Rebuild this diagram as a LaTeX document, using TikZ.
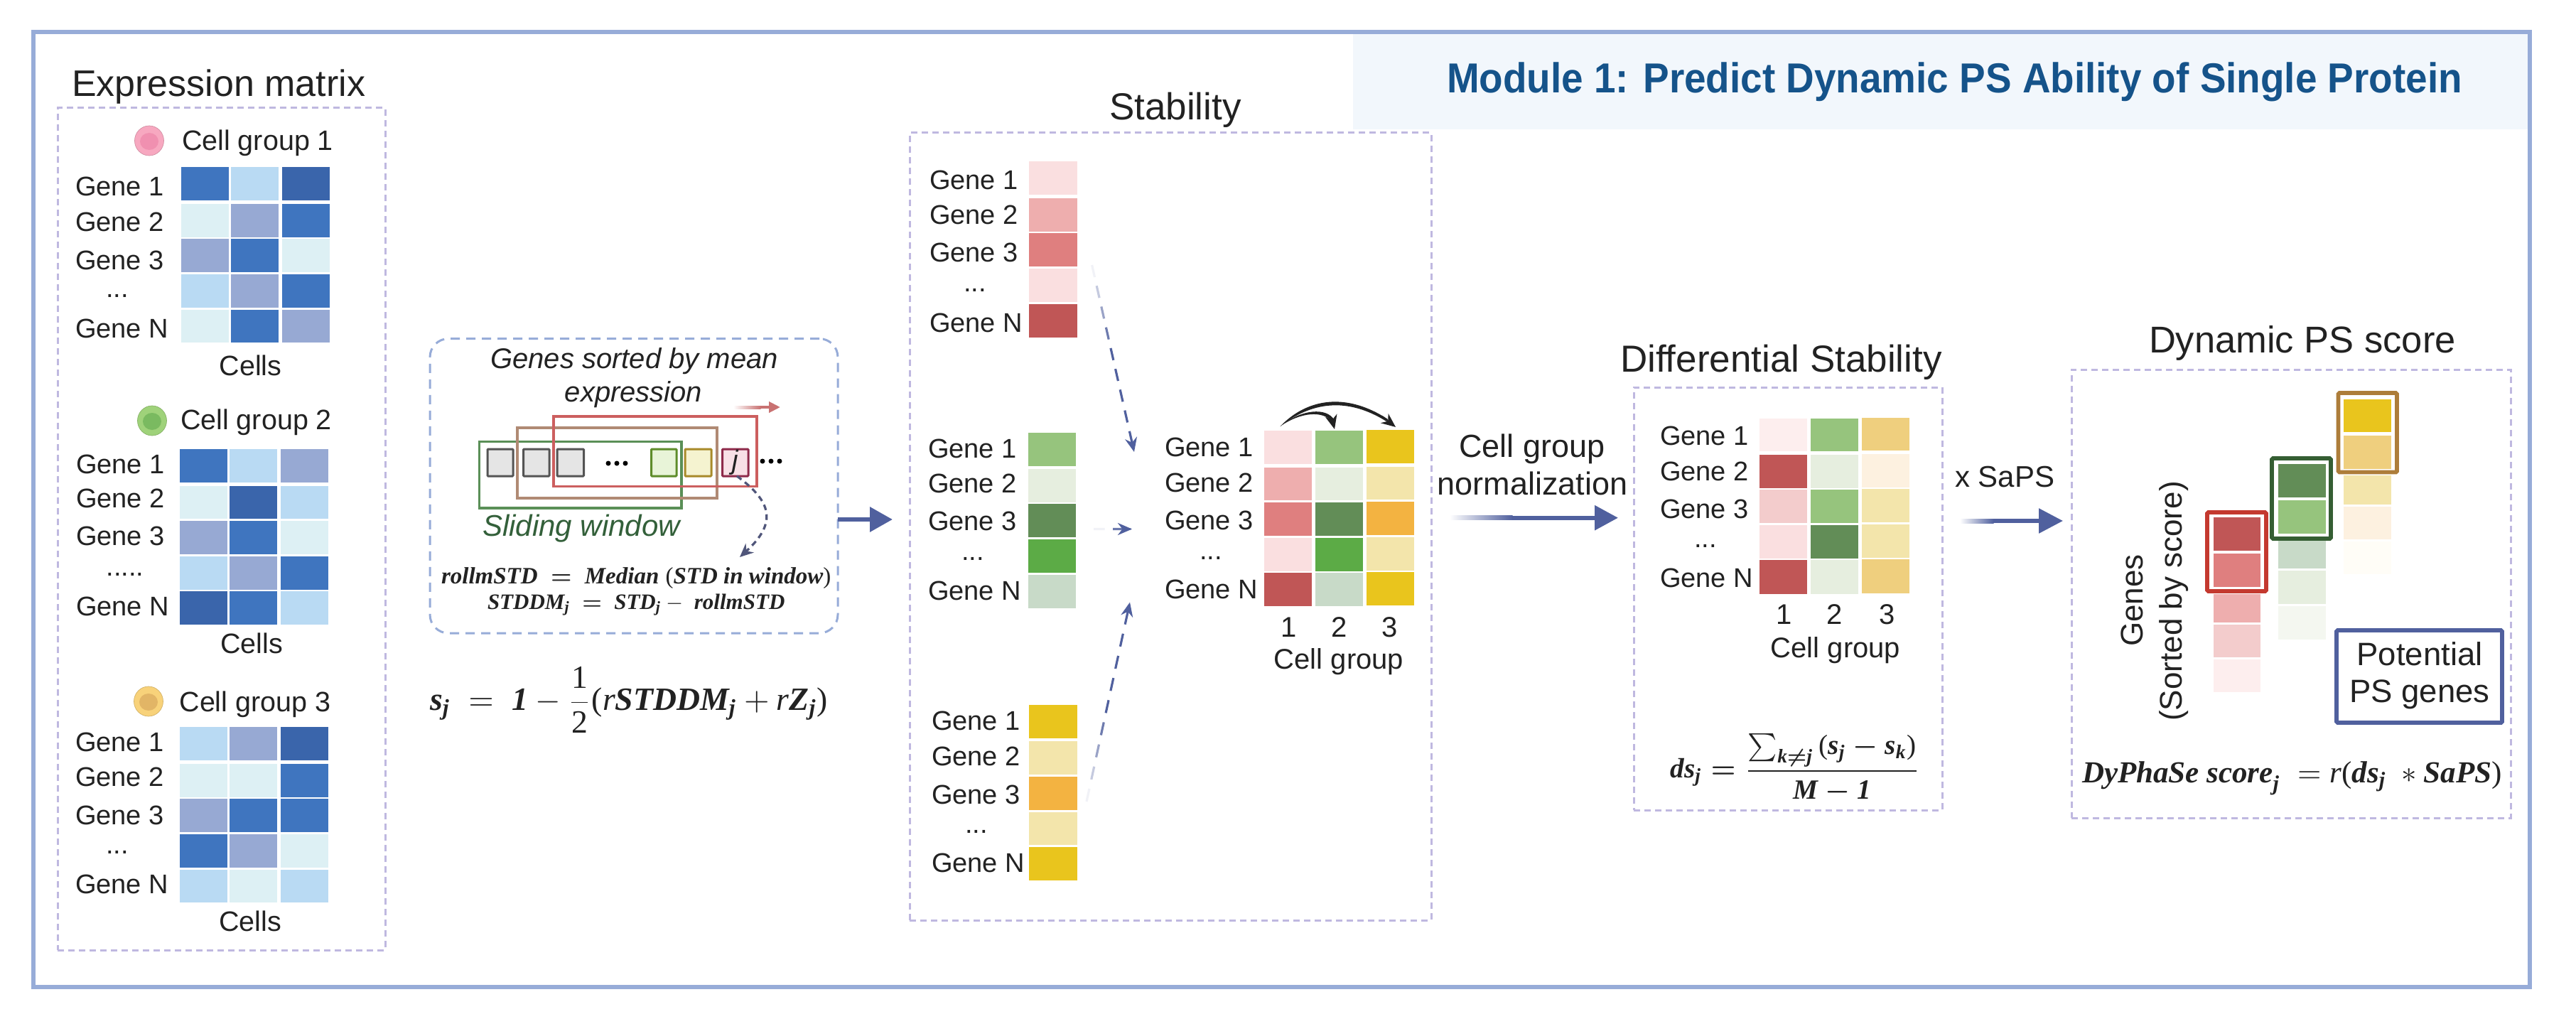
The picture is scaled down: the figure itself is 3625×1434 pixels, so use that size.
\documentclass[tikz,border=0pt]{standalone}
\usepackage{amsmath,amsbsy,graphicx}
\usepackage[no-math]{fontspec}
\setmainfont{Liberation Sans}
\newfontfamily\mserif{Liberation Serif}
\usetikzlibrary{arrows.meta,calc,fit}
\definecolor{frameblue}{HTML}{97ACD8}
\definecolor{bandblue}{HTML}{F2F7FC}
\definecolor{titleblue}{HTML}{15538A}
\definecolor{dashlilac}{HTML}{BFB8E0}
\definecolor{ab}{HTML}{50609E}
\definecolor{ink}{HTML}{222222}
\definecolor{slidegreen}{HTML}{33603A}
\definecolor{slatearrow}{HTML}{50567A}
% icon colours
\definecolor{iAo}{HTML}{F7A8C0}\definecolor{iAi}{HTML}{F090B0}
\definecolor{iBo}{HTML}{9FD27A}\definecolor{iBi}{HTML}{7ABA60}
\definecolor{iCo}{HTML}{F8D27A}\definecolor{iCi}{HTML}{E2B566}
% expression colours
\definecolor{xd}{HTML}{3A65AB}\definecolor{xm}{HTML}{3F75BF}\definecolor{xb}{HTML}{97A9D3}
\definecolor{xl}{HTML}{B9DAF3}\definecolor{xp}{HTML}{DDF0F4}
% reds
\definecolor{ra}{HTML}{C05656}\definecolor{rb}{HTML}{DF7F7F}\definecolor{rc}{HTML}{EEAEAE}
\definecolor{rd}{HTML}{F3CCCC}\definecolor{re}{HTML}{FDEEEE}\definecolor{rf}{HTML}{FADFE0}
% greens
\definecolor{ga}{HTML}{628D57}\definecolor{gb}{HTML}{96C47D}\definecolor{gc}{HTML}{C8DAC8}
\definecolor{gd}{HTML}{E6EEDF}\definecolor{ge}{HTML}{F4F7F0}\definecolor{gf}{HTML}{5CAB46}
% yellows
\definecolor{ya}{HTML}{E9C51D}\definecolor{yb}{HTML}{EFCF7E}\definecolor{yc}{HTML}{F3E5AB}
\definecolor{yd}{HTML}{FDF1E0}\definecolor{ye}{HTML}{FFFDF7}\definecolor{yf}{HTML}{F3B341}
\newcounter{tn}
\newcommand\fs[1]{\fontsize{#1}{#1}\selectfont}
\newcommand\bi[1]{\text{\mserif\bfseries\itshape #1}}
\newcommand\ri[1]{\text{\mserif\itshape #1}}
\newcommand\rn[1]{\text{\mserif #1}}
\newcommand\T[4][]{\stepcounter{tn}\node[lbl,#1](t\thetn) at (#2,#3) {#4};}
\newcommand\hrow[3]{\foreach \xa/\xb/\cc in {#3}{\fill[\cc] (\xa,#1) rectangle (\xb,#2);}}
\newcommand\bx[6][dashbox]{\coordinate (#2-a) at (#3,#4);\coordinate (#2-b) at (#5,#6);\node[#1,fit=(#2-a)(#2-b)](#2){};}
\def\gdots{...}
\newcommand\genes[7]{\T[font=\fs{38}]{#1}{#2}{Gene 1}\T[font=\fs{38}]{#1}{#3}{Gene 2}\T[font=\fs{38}]{#1}{#4}{Gene 3}\T[font=\fs{38},anchor=base]{#7}{#5}{\gdots}\T[font=\fs{38}]{#1}{#6}{Gene N}}
\newcommand\cellicon[4]{\fill[#3,draw=#3!85!black,line width=.7pt] (#1,#2) ellipse [x radius=20.5,y radius=21];\fill[#4] (#1,#2+1) ellipse [x radius=13,y radius=12];}
% fading arrow: coordinates a (tail), f (fade end), b (tip)
\newcommand\fadearrow[6]{\coordinate (#1-a) at (#2,#5);\coordinate (#1-f) at (#3,#5);\coordinate (#1-b) at (#4,#5);
 \shade[left color=white,right color=ab] (#2,#5-3) rectangle (#3+.5,#5+3);
 \draw[ab,line width=6pt,-{Triangle[length=#6pt,width=34pt]}] (#1-f) -- (#1-b);}
% fading dashed arrow between named coordinates
\newcommand\fadedash[4]{%
 \foreach \k in {0,...,\numexpr#3-1\relax}{%
  \pgfmathsetmacro\ta{\k/#3}\pgfmathsetmacro\tb{(\k+.58)/#3}%
  \pgfmathsetmacro\pc{min(100,8+100*\k/#4)}%
  \draw[ab!\pc!white,line width=3.2pt] ($(#1)!\ta!(#2)$) -- ($(#1)!\tb!(#2)$);}%
 \draw[ab,line width=3.2pt,-{Stealth[length=20pt,width=17pt]}] ($(#1)!.97!(#2)$) -- (#2);}
\tikzset{
 lbl/.style={inner sep=0,outer sep=0,anchor=base west,text=ink},
 dashbox/.style={draw=dashlilac,line width=3pt,dash pattern=on 9pt off 6pt,inner sep=0,outer sep=0,rectangle},
 slidebox/.style={draw=frameblue,line width=3pt,dash pattern=on 13pt off 9pt,inner sep=0,outer sep=0,rectangle,rounded corners=26pt},
 sq/.style={line width=3pt,rounded corners=1pt},
 win/.style={line width=3.4pt},
 frm/.style={line width=5.6pt,rounded corners=1.5pt,fill=none},
}
\begin{document}
\begin{tikzpicture}[x=1pt,y=-1pt]
\useasboundingbox (0,0) rectangle (3625,1434);
\fill[white] (0,0) rectangle (3625,1434);
% band and frame
\fill[bandblue] (1904,48) rectangle (3558,182);
\draw[frameblue,line width=6pt] (46.5,45) rectangle (3560,1389);
\T[font=\fs{59}\bfseries,text=titleblue]{2036}{131}{\scalebox{.93}[1]{Module 1: Predict Dynamic PS Ability of Single Protein}}
% ---------- expression
\T[font=\fs{52}]{101}{136}{Expression matrix}
\bx{exprbox}{81}{152}{542}{1337}
\cellicon{210}{198}{iAo}{iAi}
\T[font=\fs{39.5}]{256}{211.5}{Cell group 1}
\genes{106}{275}{325}{379}{418}{475.5}{165}
\hrow{235.4}{282}{255/322/xm,325/392/xl,397/464/xd}
\hrow{287}{334}{255/322/xp,325/392/xb,397/464/xm}
\hrow{336}{383}{255/322/xb,325/392/xm,397/464/xp}
\hrow{386}{433}{255/322/xl,325/392/xb,397/464/xm}
\hrow{435.6}{482}{255/322/xp,325/392/xm,397/464/xb}
\T[font=\fs{39.5}]{308.6}{528}{Cells}
\cellicon{214}{592}{iBo}{iBi}
\T[font=\fs{39.5}]{254}{604}{Cell group 2}
\def\gdots{.....}
\genes{107}{666}{714}{767}{810}{866}{176}
\def\gdots{...}
\hrow{632}{679}{253/320/xm,323/390/xl,395/462/xb}
\hrow{683.5}{730}{253/320/xp,323/390/xd,395/462/xl}
\hrow{733}{780}{253/320/xb,323/390/xm,395/462/xp}
\hrow{783}{830}{253/320/xl,323/390/xb,395/462/xm}
\hrow{832}{879}{253/320/xd,323/390/xm,395/462/xl}
\T[font=\fs{39.5}]{310}{919}{Cells}
\cellicon{209}{987}{iCo}{iCi}
\T[font=\fs{39.5}]{252.5}{1001.5}{Cell group 3}
\genes{106}{1057}{1106}{1160}{1201}{1257}{165}
\hrow{1023}{1070}{253/320/xl,323/390/xb,395/462/xd}
\hrow{1075}{1122}{253/320/xp,323/390/xp,395/462/xm}
\hrow{1124}{1171}{253/320/xb,323/390/xm,395/462/xm}
\hrow{1174}{1221}{253/320/xm,323/390/xb,395/462/xp}
\hrow{1223.5}{1270}{253/320/xl,323/390/xp,395/462/xl}
\T[font=\fs{39.5}]{308}{1310}{Cells}
% ---------- sliding window
\bx[slidebox]{slidebox}{605}{476.6}{1179}{891}
\T[font=\fs{40}\itshape,anchor=base]{892.5}{518}{Genes sorted by mean}
\T[font=\fs{40}\itshape,anchor=base]{891.5}{565}{expression}
\coordinate (redA) at (1032,573);\coordinate (redF) at (1070,573);\coordinate (redB) at (1098,573);
\shade[left color=white,right color=rb!90!black] (1032,571) rectangle (1070.5,575);
\draw[rb!90!black,line width=4pt,-{Triangle[length=16pt,width=15pt]}] (redF) -- (redB);
\draw[win,draw={rgb,255:red,90;green,143;blue,87}] (674.6,621.7) rectangle (959,715);
\draw[win,draw={rgb,255:red,176;green,138;blue,116}] (728,602) rectangle (1009,701);
\draw[win,draw={rgb,255:red,204;green,95;blue,95}] (779,586) rectangle (1065,684.5);
\draw[sq,fill=black!10,draw=black!67] (686,632) rectangle (722,670);
\draw[sq,fill=black!10,draw=black!67] (736.6,632) rectangle (773,670);
\draw[sq,fill=black!10,draw=black!67] (784,632) rectangle (821.5,670);
\draw[sq,fill={rgb,255:red,232;green,244;blue,216},draw={rgb,255:red,94;green,140;blue,42}] (916.5,632) rectangle (952,670);
\draw[sq,fill={rgb,255:red,245;green,243;blue,208},draw={rgb,255:red,168;green,138;blue,42}] (964,632) rectangle (1001,670);
\draw[sq,fill={rgb,255:red,248;green,224;blue,230},draw={rgb,255:red,142;green,42;blue,74}] (1016.6,632) rectangle (1053,670);
\node[inner sep=0,outer sep=0,font=\fs{38}\itshape,text=ink](jnode) at (1034.8,651){j};
\foreach \dx in {-12,0,12}{\fill[black] (868+\dx,652) circle (3.5);\fill[black] (1085+\dx,649) circle (3.5);}
\T[font=\fs{42}\itshape,text=slidegreen]{679}{754}{Sliding window}
\coordinate (jfoot) at (1037,670);\coordinate (mathtop) at (1041,784);
\draw[slatearrow,line width=3.2pt,dash pattern=on 8pt off 6pt,-{Stealth[length=19pt,width=17pt]}] (jfoot) .. controls (1085,705) and (1095,735) .. (mathtop);
\T[anchor=base west]{621}{821}{\scalebox{3.3}{$\bi{rollmSTD}\ \boldsymbol{=}\ \bi{Median}\ \rn{(}\bi{STD in window}\rn{)}$}}
\T[anchor=base west]{686}{857}{\scalebox{3.1}{$\bi{STDDM}_{\bi{j}}\ \boldsymbol{=}\ \bi{STD}_{\bi{j}}-\ \bi{rollmSTD}$}}
\T[anchor=west]{605}{985}{\scalebox{4.57}{$\displaystyle\bi{s}_{\bi{j}}\ =\ \bi{1}-\frac{\rn{1}}{\rn{2}}\rn{(}\ri{r}\bi{STDDM}_{\bi{j}}+\ri{r}\bi{Z}_{\bi{j}}\rn{)}$}}
\coordinate (slideTip) at (1256,731);
\draw[ab,line width=6.5pt,-{Triangle[length=32pt,width=34pt]}] (slideTip -| slidebox.east) -- (slideTip);
% ---------- stability
\T[font=\fs{53}]{1561}{169}{Stability}
\bx{stabbox}{1280}{187}{2014}{1295}
\genes{1308}{266}{315}{368}{410}{467}{1372}
\hrow{227}{274}{1448/1516/rf}\hrow{279}{326}{1448/1516/rc}\hrow{328}{375}{1448/1516/rb}\hrow{378}{425}{1448/1516/rf}\hrow{428}{475}{1448/1516/ra}
\genes{1306}{644}{693}{746.5}{788}{844}{1369}
\hrow{608.6}{655.5}{1447/1514/gb}\hrow{660}{707}{1447/1514/gd}\hrow{709.4}{756}{1447/1514/ga}\hrow{758.5}{806.4}{1447/1514/gf}\hrow{808.6}{855.7}{1447/1514/gc}
\genes{1311}{1027}{1077}{1131}{1172}{1227}{1374}
\hrow{992}{1038.6}{1448/1516/ya}\hrow{1043}{1089.6}{1448/1516/yc}\hrow{1093}{1139.6}{1448/1516/yf}\hrow{1143}{1189}{1448/1516/yc}\hrow{1192}{1238.6}{1448/1516/ya}
% centre matrix
\genes{1639}{642}{692}{745.7}{787}{842}{1704}
\hrow{606}{653}{1779/1846/rf,1851/1918/gb}\hrow{657.7}{704}{1779/1846/rc,1851/1918/gd}\hrow{707}{753.7}{1779/1846/rb,1851/1918/ga}\hrow{757}{804}{1779/1846/rf,1851/1918/gf}\hrow{806}{853}{1779/1846/ra,1851/1918/gc}
\hrow{605}{652}{1923/1990/ya}\hrow{656.7}{703}{1923/1990/yc}\hrow{706}{753}{1923/1990/yf}\hrow{756}{803}{1923/1990/yc}\hrow{805}{852}{1923/1990/ya}
\T[font=\fs{40},anchor=base]{1814}{896}{1}\T[font=\fs{40},anchor=base]{1885}{896}{2}\T[font=\fs{40},anchor=base]{1956}{896}{3}
\T[font=\fs{40},anchor=base]{1884}{941.7}{Cell group}
\coordinate (arcS) at (1801.5,600);\coordinate (arcA) at (1878,604);\coordinate (arcB) at (1964,601);
\fill[ink] (arcS) .. controls (1830,576) and (1868,572) .. (1878,592) -- (1875,594) .. controls (1862,577) and (1830,580) .. cycle;
\fill[ink] (arcS) .. controls (1840,560) and (1895,552) .. (1953,590) -- (1951,593) .. controls (1895,558) and (1845,566) .. cycle;
\draw[ink,line width=2pt,-{Stealth[length=20pt,width=17pt]}] (1874,588) -- (arcA);
\draw[ink,line width=2pt,-{Stealth[length=20pt,width=17pt]}] (1945,586) -- (arcB);
% dashed arrows
\coordinate (da1) at (1536.6,373);\coordinate (db1) at (1596,636);
\coordinate (da2) at (1539,744.5);\coordinate (db2) at (1593,744.5);
\coordinate (da3) at (1529,1128);\coordinate (db3) at (1590,847.5);
\fadedash{da1}{db1}{9}{4}
\fadedash{da2}{db2}{2}{1.3}
\fadedash{da3}{db3}{9}{4}
% ---------- normalization
\T[font=\fs{45},anchor=base]{2156}{643}{Cell group}
\T[font=\fs{45},anchor=base]{2156.5}{696.7}{normalization}
\fadearrow{normarrow}{2040}{2128}{2277}{728.7}{33}
% ---------- differential
\T[font=\fs{53}]{2280}{523}{Differential Stability}
\bx{diffbox}{2299}{545}{2733}{1140}
\genes{2336}{626}{676}{729.5}{770}{826}{2400}
\hrow{588.6}{635}{2476/2543/re,2548/2615/gb}\hrow{639.5}{687}{2476/2543/ra,2548/2615/gd}\hrow{689}{736}{2476/2543/rd,2548/2615/gb}\hrow{738.7}{786}{2476/2543/rf,2548/2615/ga}\hrow{788}{835.5}{2476/2543/ra,2548/2615/gd}
\hrow{587.6}{634}{2620/2687/yb}\hrow{638.5}{686}{2620/2687/yd}\hrow{688}{735}{2620/2687/yc}\hrow{737.7}{785}{2620/2687/yc}\hrow{787}{834.5}{2620/2687/yb}
\T[font=\fs{40},anchor=base]{2511}{878}{1}\T[font=\fs{40},anchor=base]{2582}{878}{2}\T[font=\fs{40},anchor=base]{2656}{878}{3}
\T[font=\fs{40},anchor=base]{2583}{925}{Cell group}
\T[anchor=west]{2350.6}{1081}{\scalebox{3.92}{\boldmath$\displaystyle \bi{ds}_{\bi{j}}=\frac{\sum_{\bi{k}\neq \bi{j}}\rn{(}\bi{s}_{\bi{j}}-\bi{s}_{\bi{k}}\rn{)}}{\bi{M}-\bi{1}}$}}
% ---------- SaPS
\T[font=\fs{42}]{2751}{685}{x SaPS}
\fadearrow{sapsarrow}{2758}{2805}{2903}{733}{34}
% ---------- dynamic
\T[font=\fs{52.5}]{3024}{496}{Dynamic PS score}
\bx{dynbox}{2915}{520}{3533}{1151}
\T[font=\fs{44},anchor=base,rotate=90]{3015}{845}{Genes}
\T[font=\fs{44},anchor=base,rotate=90]{3070}{846}{(Sorted by score)}
\hrow{728}{775}{3115/3181/ra}\hrow{779}{826}{3115/3181/rb}\hrow{836}{876}{3115/3181/rc}\hrow{879}{925}{3115/3181/rd}\hrow{928}{974}{3115/3181/re}
\hrow{653}{700}{3206/3273/ga}\hrow{704}{751}{3206/3273/gb}\hrow{761}{800}{3206/3273/gc}\hrow{803}{850}{3206/3273/gd}\hrow{853}{900}{3206/3273/ge}
\hrow{562}{608}{3298/3365/ya}\hrow{613}{660}{3298/3365/yb}\hrow{668.5}{710}{3298/3365/yc}\hrow{712.6}{759}{3298/3365/yd}\hrow{761.6}{808}{3298/3365/ye}
\draw[frm,draw={rgb,255:red,196;green,57;blue,47}] (3106,721) rectangle (3189,832);
\draw[frm,draw={rgb,255:red,53;green,94;blue,51}] (3197,645) rectangle (3280,758);
\draw[frm,draw={rgb,255:red,173;green,125;blue,58}] (3290.5,553) rectangle (3373,664.5);
\coordinate (pa) at (3288,887);\coordinate (pb) at (3521,1017);
\node[draw=ab,line width=5.6pt,rounded corners=1.5pt,inner sep=0,outer sep=0,fit=(pa)(pb)](potbox){};
\T[font=\fs{45.5},anchor=base]{3405}{936.5}{Potential}
\T[font=\fs{45.5},anchor=base]{3405}{988}{PS genes}
\T[anchor=base west]{2930}{1101}{\scalebox{4.3}{$\bi{DyPhaSe score}_{\bi{j}}\ =\ri{r}\rn{(}\bi{ds}_{\bi{j}}\ *\bi{SaPS}\rn{)}$}}
\end{tikzpicture}
\end{document}
